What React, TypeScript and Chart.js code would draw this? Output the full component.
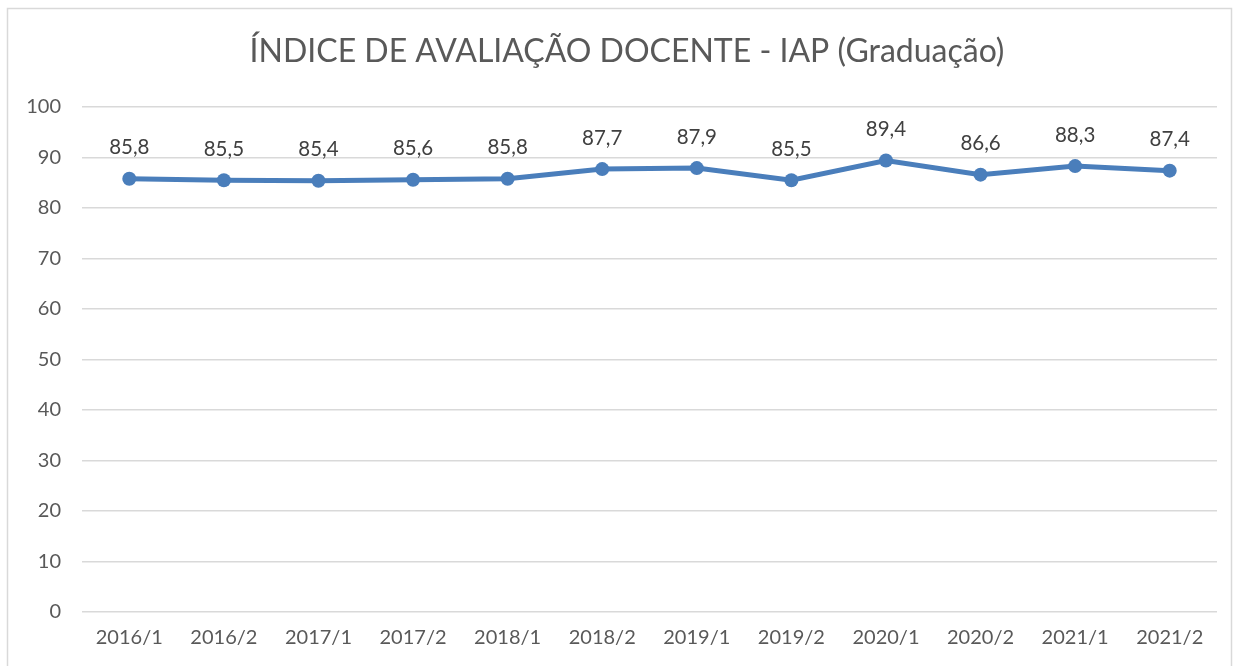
import React, { useEffect, useRef } from "react";
import { Chart, registerables } from "chart.js";

Chart.register(...registerables);

const TITLE = "ÍNDICE DE AVALIAÇÃO DOCENTE - IAP (Graduação)";
const categories = ["2016/1", "2016/2", "2017/1", "2017/2", "2018/1", "2018/2", "2019/1", "2019/2", "2020/1", "2020/2", "2021/1", "2021/2"];
const values = [85.8, 85.5, 85.4, 85.6, 85.8, 87.7, 87.9, 85.5, 89.4, 86.6, 88.3, 87.4];
const yMin = 0;
const yMax = 100;
const yStep = 10;

const FONT = "Lato, 'Open Sans', sans-serif";
const LINE_COLOR = "#4a7ebb";

const framePlugin = {
  id: "frame",
  beforeDraw(chart: any) {
    const ctx = chart.ctx;
    ctx.save();
    ctx.fillStyle = "#ffffff";
    ctx.fillRect(0, 0, chart.width, chart.height);
    ctx.strokeStyle = "#d9d9d9";
    ctx.lineWidth = 1.5;
    ctx.strokeRect(7.5, 8.5, 1224, 700);
    ctx.restore();
  },
};

const labelPlugin = {
  id: "pointLabels",
  afterDatasetsDraw(chart: any) {
    const ctx = chart.ctx;
    const meta = chart.getDatasetMeta(0);
    ctx.save();
    ctx.font = `20.5px ${FONT}`;
    ctx.fillStyle = "#404040";
    ctx.textAlign = "center";
    ctx.textBaseline = "middle";
    meta.data.forEach((pt: any, i: number) => {
      const v = values[i];
      ctx.fillText(v.toFixed(1).replace(".", ","), pt.x, pt.y - 31);
    });
    ctx.restore();
  },
};

const titlePlugin = {
  id: "customTitle",
  afterDraw(chart: any) {
    const ctx = chart.ctx;
    ctx.save();
    ctx.font = `32px ${FONT}`;
    ctx.fillStyle = "#595959";
    ctx.textAlign = "center";
    ctx.textBaseline = "middle";
    ctx.fillText(TITLE, 627, 52);
    ctx.restore();
  },
};

export default function App() {
  const ref = useRef<HTMLCanvasElement | null>(null);
  useEffect(() => {
    if (!ref.current) return;
    const chart = new Chart(ref.current, {
      type: "line",
      data: {
        labels: categories,
        datasets: [
          {
            data: values,
            borderColor: LINE_COLOR,
            backgroundColor: LINE_COLOR,
            borderWidth: 5,
            pointRadius: 7,
            pointBackgroundColor: LINE_COLOR,
            pointBorderColor: LINE_COLOR,
            pointBorderWidth: 0,
            tension: 0,
            clip: false as any,
          },
        ],
      },
      options: {
        animation: false,
        responsive: false,
        maintainAspectRatio: false,
        layout: { padding: { top: 107, right: 17, bottom: 2, left: 0 } },
        plugins: {
          legend: { display: false },
          tooltip: { enabled: false },
          title: { display: false },
        },
        scales: {
          x: {
            offset: true,
            grid: { display: false, drawTicks: false },
            border: { display: false },
            ticks: {
              color: "#595959",
              font: { family: FONT, size: 20 },
              padding: 14,
              maxRotation: 0,
              autoSkip: false,
            },
          },
          y: {
            min: yMin,
            max: yMax,
            grid: { color: "#d9d9d9", lineWidth: 1.5, drawTicks: false },
            border: { display: false },
            ticks: {
              stepSize: yStep,
              color: "#595959",
              font: { family: FONT, size: 20 },
              padding: 21,
            },
            afterFit(scale: any) {
              scale.width = 82;
            },
          },
        },
      },
      plugins: [framePlugin, labelPlugin, titlePlugin],
    });
    return () => chart.destroy();
  }, []);
  return (
    <div style={{ position: "fixed", left: 0, top: 0, width: 1234, height: 666 }}>
      <canvas ref={ref} width={1234} height={666} style={{ width: 1234, height: 666 }} />
    </div>
  );
}
